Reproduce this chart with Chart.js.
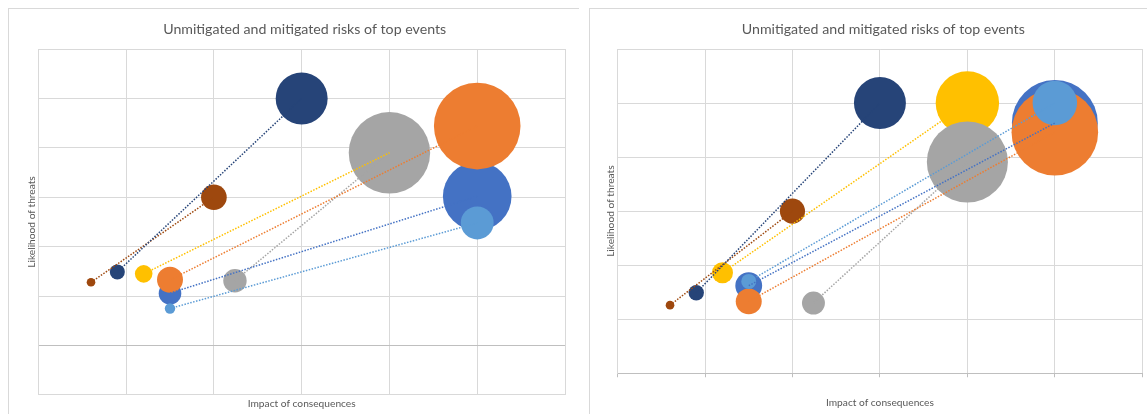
<!DOCTYPE html>
<html>
<head>
<meta charset="utf-8">
<title>Unmitigated and mitigated risks of top events</title>
<script src="https://cdn.jsdelivr.net/npm/chart.js@4.4.1/dist/chart.umd.min.js"></script>
<style>
  html, body { margin: 0; padding: 0; background: #fff; overflow: hidden; }
  body { width: 1147px; height: 414px; position: relative; }
  .panel { position: absolute; border-top: 1px solid #d9d9d9; border-left: 1px solid #d9d9d9; }
  #panelLeft { left: 8px; top: 8px; width: 570px; height: 420px; }
  #panelRight { left: 589px; top: 8px; width: 600px; height: 420px; }
  canvas { position: absolute; top: 0; }
  #riskLeft { left: 0; }
  #riskRight { left: 585px; }
</style>
</head>
<body>
<div class="panel" id="panelLeft"></div>
<div class="panel" id="panelRight"></div>
<canvas id="riskLeft" width="580" height="414"></canvas>
<canvas id="riskRight" width="562" height="414"></canvas>
<script>
// one colour per top event
const seriesColors = ['#4472C4', '#ED7D31', '#FFC000', '#A5A5A5', '#5B9BD5', '#264478', '#9E480E'];

// left chart: unmitigated (before) and mitigated (after) risks
const impactBeforeA = [5, 5, 4, 4, 5, 3, 2];
const likelihoodBeforeA = [3.02, 4.44, 3.9, 3.9, 2.48, 5, 3];
const sizeBeforeA = [15.7, 25, 13.4, 22.1, 3.6, 9, 2.2];
const impactAfterA = [1.5, 1.5, 1.2, 2.24, 1.5, 0.9, 0.6];
const likelihoodAfterA = [1.06, 1.33, 1.45, 1.31, 0.75, 1.49, 1.28];
const sizeAfterA = [1.7, 2.25, 1.03, 1.83, 0.36, 0.75, 0.25];

// right chart
const impactBeforeB = [5, 5, 4, 4, 5, 3, 2];
const likelihoodBeforeB = [4.63, 4.46, 5, 3.91, 5, 5, 3];
const sizeBeforeB = [24.6, 25, 13.4, 21.9, 6.6, 9, 2.1];
const impactAfterB = [1.5, 1.5, 1.2, 2.24, 1.5, 0.9, 0.6];
const likelihoodAfterB = [1.62, 1.33, 1.86, 1.3, 1.7, 1.49, 1.26];
const sizeAfterB = [2.4, 2.25, 1.47, 1.76, 0.75, 0.79, 0.25];

const titleText = 'Unmitigated and mitigated risks of top events';
const xTitle = 'Impact of consequences';
const yTitle = 'Likelihood of threats';

const textColor = '#595959';
const gridColor = '#d9d9d9';
const axisColor = '#bfbfbf';
const maxRadius = 43.3;
const maxSize = 25;

// bubble area follows the risk size
const bubbleRadius = s => maxRadius * Math.sqrt(s / maxSize);

// draws the chart heading at a fixed spot
const chartTitle = {
  id: 'chartTitle',
  afterDraw(chart, args, opts) {
    const ctx = chart.ctx;
    ctx.save();
    ctx.font = opts.font;
    ctx.fillStyle = opts.color;
    ctx.textAlign = 'center';
    ctx.textBaseline = 'alphabetic';
    ctx.fillText(opts.text, opts.x, opts.y);
    ctx.restore();
  }
};

function makeDatasets(ib, lb, sb, ia, la, sa) {
  const n = seriesColors.length;
  const bubbles = seriesColors.map((c, i) => ({
    type: 'bubble',
    data: [
      { x: ib[i], y: lb[i], r: bubbleRadius(sb[i]) },
      { x: ia[i], y: la[i], r: bubbleRadius(sa[i]) }
    ],
    backgroundColor: c,
    borderWidth: 0,
    order: 10 + n - i
  }));
  // dotted link from mitigated to unmitigated risk
  const links = seriesColors.map((c, i) => ({
    type: 'line',
    data: [{ x: ia[i], y: la[i] }, { x: ib[i], y: lb[i] }],
    borderColor: c,
    borderWidth: 1.5,
    borderDash: [1.5, 1.5],
    pointRadius: 0,
    fill: false,
    order: 0
  }));
  return bubbles.concat(links);
}

function makeOptions(cfg) {
  return {
    responsive: false,
    animation: false,
    events: [],
    layout: { autoPadding: false, padding: cfg.padding },
    plugins: {
      legend: { display: false },
      tooltip: { enabled: false },
      chartTitle: { text: titleText, x: cfg.titleX, y: 34, font: '14.2px Lato', color: textColor }
    },
    scales: {
      x: {
        type: 'linear',
        min: 0,
        max: 6,
        ticks: { display: false, stepSize: 1 },
        grid: { color: gridColor, drawTicks: cfg.xTicks, tickLength: 4, tickColor: axisColor },
        border: { color: cfg.xBorder },
        title: {
          display: true,
          text: xTitle,
          color: textColor,
          font: { family: 'Lato', size: 10.2, lineHeight: 1.2 },
          padding: cfg.xTitlePadding
        }
      },
      y: {
        type: 'linear',
        min: cfg.yMin,
        max: 6,
        ticks: { display: false, stepSize: 1 },
        grid: {
          drawTicks: false,
          color: ctx => (ctx.tick && ctx.tick.value === 0 && cfg.yMin < 0) ? axisColor : gridColor
        },
        border: { color: gridColor },
        title: {
          display: true,
          text: yTitle,
          color: textColor,
          font: { family: 'Lato', size: 10.2, lineHeight: 1.2 },
          padding: cfg.yTitlePadding
        }
      }
    }
  };
}

new Chart(document.getElementById('riskLeft'), {
  type: 'bubble',
  data: { datasets: makeDatasets(impactBeforeA, likelihoodBeforeA, sizeBeforeA, impactAfterA, likelihoodAfterA, sizeAfterA) },
  options: makeOptions({
    padding: { top: 49, left: 23.4, right: 15, bottom: 0 },
    titleX: 304.7,
    xTicks: false,
    xBorder: gridColor,
    xTitlePadding: { top: 2.9, bottom: 3.9 },
    yTitlePadding: { top: 2, bottom: 0.7 },
    yMin: -1
  }),
  plugins: [chartTitle]
});

new Chart(document.getElementById('riskRight'), {
  type: 'bubble',
  data: { datasets: makeDatasets(impactBeforeB, likelihoodBeforeB, sizeBeforeB, impactAfterB, likelihoodAfterB, sizeAfterB) },
  options: makeOptions({
    padding: { top: 49, left: 17.4, right: 4.7, bottom: 0 },
    titleX: 298.3,
    xTicks: true,
    xBorder: axisColor,
    xTitlePadding: { top: 19.6, bottom: 4.9 },
    yTitlePadding: { top: 2, bottom: 0.9 },
    yMin: 0
  }),
  plugins: [chartTitle]
});
</script>
</body>
</html>
